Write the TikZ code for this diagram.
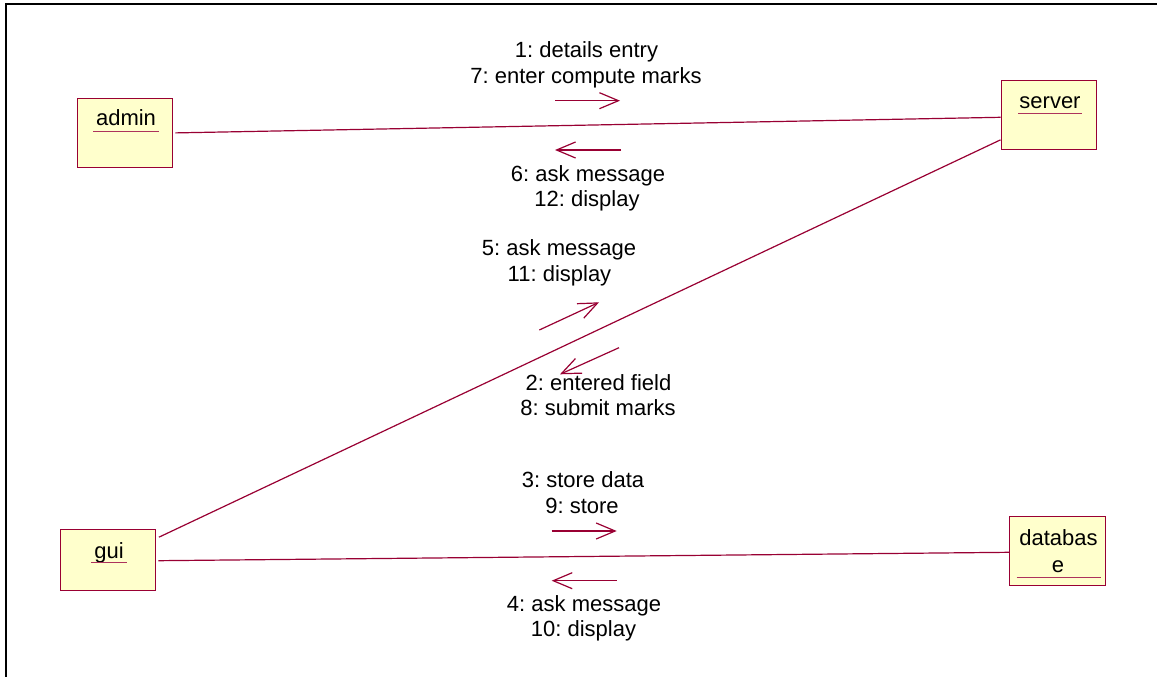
\documentclass[tikz,border=0pt]{standalone}
\usepackage{fontspec}
\setmainfont{Liberation Sans}
\usetikzlibrary{arrows.meta,calc}
\definecolor{rosered}{RGB}{153,0,51}
\definecolor{roseyellow}{RGB}{255,255,204}
\frenchspacing
\begin{document}
\begin{tikzpicture}[x=1pt,y=-1pt,
  font=\fontsize{22}{26}\selectfont,
  objbox/.style={draw=rosered, fill=roseyellow, line width=1.1pt, inner sep=0pt},
  objname/.style={anchor=base, inner sep=0pt, text=black},
  uline/.style={draw=rosered!80, line width=1.2pt},
  link/.style={draw=rosered, line width=1.2pt},
  msgarrow/.style={draw=rosered, line width=1.2pt, -{Straight Barb[length=19pt,width=16pt]}},
  msglabel/.style={anchor=base, inner sep=0pt, text=black}]
\useasboundingbox (0,0) rectangle (1157,677);
\fill[white] (0,0) rectangle (1157,677);

% outer frame (top and left edges)
\draw[line width=2pt, line join=miter] (6.3,677) -- (6.3,4) -- (1157,4);

% objects
\node[objbox, minimum width=95.7pt, minimum height=68.3pt] (admin) at (124.9,132.9) {};
\node[objname] (adminname) at (126,125.7) {admin};
\draw[uline] (93.3,131.3) -- (159.3,131.3);

\node[objbox, minimum width=95.3pt, minimum height=68.6pt] (server) at (1048.7,115) {};
\node[objname] (servername) at (1050,108.7) {server};
\draw[uline] (1018.3,113.3) -- (1082,113.3);

\node[objbox, minimum width=95.3pt, minimum height=68.3pt] (database) at (1057.4,550.9) {};
\node[objname] (dbname1) at (1058.5,545) {databas};
\node[objname] (dbname2) at (1058,572.7) {e};
\draw[uline] (1016.7,577.7) -- (1101,577.7);

\node[objbox, minimum width=95.7pt, minimum height=60.3pt] (gui) at (107.9,559.9) {};
\node[objname] (guiname) at (109,558) {gui};
\draw[uline] (91,562.7) -- (126.7,562.7);

% links
\draw[link] ($(admin.east)+(2,0)$) -- ($(server.west)+(0,2.3)$);
\draw[link] ($(server.south west)+(0,-10)$) -- ($(gui.north east)+(2.6,8)$);
\draw[link] ($(gui.east)+(2,0.8)$) -- ($(database.west)+(0,1.4)$);

% messages admin <-> server
\coordinate (m1s) at (555,100.7);  \coordinate (m1e) at (620,100.7);
\coordinate (m6s) at (621,150);    \coordinate (m6e) at (555,150);
\draw[msgarrow] (m1s) -- (m1e);
\draw[msgarrow] (m6s) -- (m6e);
\node[msglabel] (l1a) at (586.5,57.3) {1: details entry};
\node[msglabel] (l1b) at (586,83.3) {7: enter compute marks};
\node[msglabel] (l6a) at (588,181.7) {6: ask message};
\node[msglabel] (l6b) at (587,206.7) {12: display};

% messages server <-> gui
\coordinate (m5s) at (539.3,330);  \coordinate (m5e) at (599,302.3);
\coordinate (m2s) at (619,347.7);  \coordinate (m2e) at (560,374.3);
\draw[msgarrow] (m5s) -- (m5e);
\draw[msgarrow] (m2s) -- (m2e);
\node[msglabel] (l5a) at (559,255) {5: ask message};
\node[msglabel] (l5b) at (559.5,281) {11: display};
\node[msglabel] (l2a) at (598.5,390) {2: entered field};
\node[msglabel] (l2b) at (598,415.7) {8: submit marks};

% messages gui <-> database
\coordinate (m3s) at (551.7,531);  \coordinate (m3e) at (616.7,531);
\coordinate (m4s) at (616.7,580.7); \coordinate (m4e) at (551.7,580.7);
\draw[msgarrow] (m3s) -- (m3e);
\draw[msgarrow] (m4s) -- (m4e);
\node[msglabel] (l3a) at (583,487.3) {3: store data};
\node[msglabel] (l3b) at (582,513.3) {9: store};
\node[msglabel] (l4a) at (584,611.7) {4: ask message};
\node[msglabel] (l4b) at (583.5,636.7) {10: display};
\end{tikzpicture}
\end{document}
